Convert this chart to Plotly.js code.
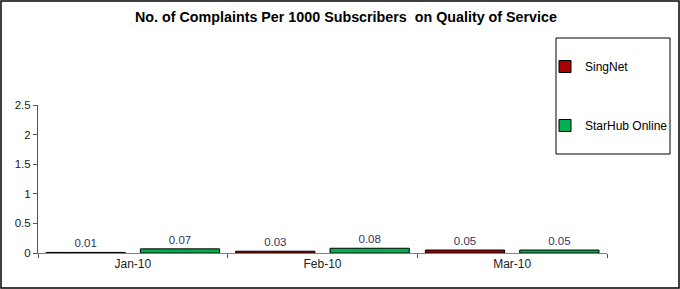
<!DOCTYPE html>
<html><head><meta charset="utf-8">
<script src="https://cdn.plot.ly/plotly-3.0.1.min.js"></script>
<style>html,body{margin:0;padding:0;background:#fff}#chart{width:680px;height:289px}</style>
</head><body><div id="chart"></div>
<script>
const categories = ["Jan-10", "Feb-10", "Mar-10"];
const singnet = [0.01, 0.03, 0.05];
const starhub = [0.07, 0.08, 0.05];
const seriesNames = ["SingNet", "StarHub Online"];

const W = 680, H = 289, L = 38, R = 73, T = 105, B = 36;
const pw = W - L - R, ph = H - T - B;
const px = v => (v - L) / pw;
const py = v => (H - B - v) / ph;

const labelFont = {family: "Liberation Sans, Arial, sans-serif", size: 11.5, color: "#333366"};
const traces = [
  {type: "bar", name: seriesNames[0], x: categories, y: singnet, legendgroup: "a",
   marker: {color: "#a80000", line: {color: "#000", width: 1}},
   text: singnet.map(v => v.toFixed(2)), textposition: "outside", textfont: labelFont, cliponaxis: false},
  {type: "bar", name: seriesNames[1], x: categories, y: starhub, legendgroup: "b",
   marker: {color: "#00b050", line: {color: "#000", width: 1}},
   text: starhub.map(v => v.toFixed(2)), textposition: "outside", textfont: labelFont, cliponaxis: false}
];

const layout = {
  width: W, height: H,
  margin: {l: L, r: R, t: T, b: B, pad: 0, autoexpand: false},
  paper_bgcolor: "#fff", plot_bgcolor: "#fff",
  font: {family: "Liberation Sans, Arial, sans-serif", size: 12, color: "#000"},
  title: {text: "<b>No. of Complaints Per 1000 Subscribers  on Quality of Service</b>",
          font: {size: 14.3, color: "#000"}, x: 346 / W, xanchor: "center", xref: "container",
          y: 1 - 17 / H, yanchor: "middle", yref: "container"},
  barmode: "group", bargap: 0.005, bargroupgap: 0.16,
  showlegend: true,
  legend: {x: px(545), y: py(52), xanchor: "left", yanchor: "top", xref: "paper", yref: "paper",
           bgcolor: "rgba(0,0,0,0)", borderwidth: 0, tracegroupgap: 40, itemwidth: 30,
           font: {size: 12, color: "#000"}},
  xaxis: {type: "category", showgrid: false, zeroline: false, showline: true, linecolor: "#808080",
          linewidth: 1, ticks: "outside", tickson: "boundaries", ticklen: 4, tickcolor: "#555",
          tickfont: {size: 12, color: "#222"}, fixedrange: true},
  yaxis: {range: [0, 2.5], dtick: 0.5, showgrid: false, zeroline: false, showline: true,
          linecolor: "#555", linewidth: 1, ticks: "outside", ticklen: 4, tickcolor: "#555",
          tickfont: {size: 11.5, color: "#222"}, fixedrange: true},
  shapes: [
    {type: "rect", xref: "paper", yref: "paper", x0: px(1), x1: px(W - 1), y0: py(H - 1), y1: py(1),
     line: {color: "#000", width: 1.5}, fillcolor: "rgba(0,0,0,0)", layer: "below"},
    {type: "rect", xref: "paper", yref: "paper", x0: px(556), x1: px(670), y0: py(154), y1: py(38),
     line: {color: "#000", width: 1}, fillcolor: "#fff", layer: "below"}
  ]
};
Plotly.newPlot("chart", traces, layout, {displayModeBar: false, staticPlot: true});
</script></body></html>
